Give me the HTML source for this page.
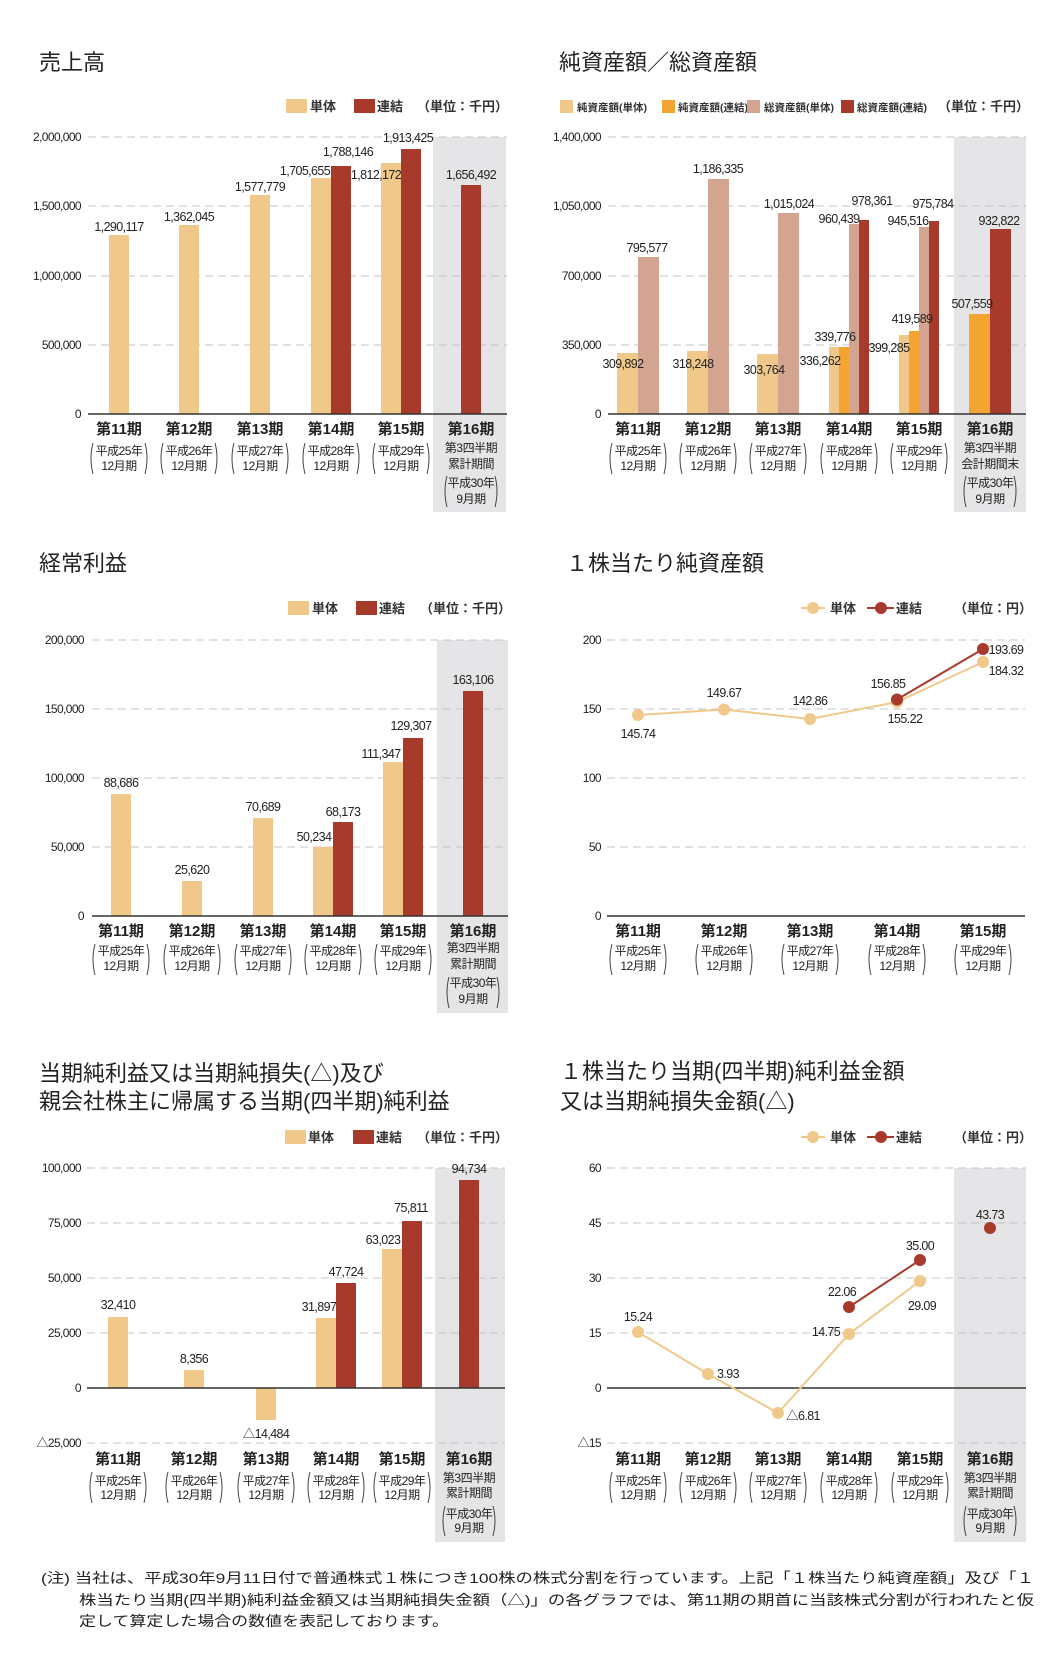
<!DOCTYPE html>
<html><head><meta charset="utf-8">
<style>
html,body{margin:0;padding:0;background:#fff;}
svg{display:block;}
.t{font:22px "Liberation Sans","Noto Sans CJK JP",sans-serif;fill:#222;}
.n{font:12.5px "Liberation Sans Narrow","Liberation Sans","Noto Sans CJK JP",sans-serif;fill:#222;letter-spacing:-0.6px;}
.y{font:12px "Liberation Sans Narrow","Liberation Sans","Noto Sans CJK JP",sans-serif;fill:#222;text-anchor:end;letter-spacing:-0.6px;}
.c{font:bold 15px "Liberation Sans","Noto Sans CJK JP",sans-serif;fill:#222;text-anchor:middle;}
.s{font:12px "Liberation Sans Narrow","Liberation Sans","Noto Sans CJK JP",sans-serif;fill:#222;text-anchor:middle;letter-spacing:-0.5px;}
.l{font:bold 13px "Liberation Sans","Noto Sans CJK JP",sans-serif;fill:#333;}
.ls{font:bold 10.5px "Liberation Sans Narrow","Liberation Sans","Noto Sans CJK JP",sans-serif;fill:#333;}
.f{font:14px "Liberation Sans","Noto Sans CJK JP",sans-serif;fill:#222;}
.m{text-anchor:middle;}
.g{stroke:#c4c4c4;stroke-width:1;stroke-dasharray:8 5;}
.b{stroke:#333;stroke-width:1.5;}
.br{fill:none;stroke:#444;stroke-width:1;}
</style></head>
<body>
<svg width="1060" height="1663" viewBox="0 0 1060 1663" xmlns="http://www.w3.org/2000/svg">
<!-- ============ Chart 1 売上高 ============ -->
<text class="t" x="39" y="70">売上高</text>
<rect x="286" y="99" width="21" height="14" fill="#f0c98a"/><text class="l" x="310" y="111">単体</text>
<rect x="354" y="99" width="21" height="14" fill="#a83a2c"/><text class="l" x="377" y="111">連結</text>
<text class="l" x="417" y="111">（単位：千円）</text>
<rect x="433" y="137" width="73" height="375" fill="#e5e5e7"/>
<line class="g" x1="88" y1="137" x2="507" y2="137"/><line class="g" x1="88" y1="206" x2="507" y2="206"/>
<line class="g" x1="88" y1="276" x2="507" y2="276"/><line class="g" x1="88" y1="345" x2="507" y2="345"/>
<text class="y" x="81" y="141">2,000,000</text><text class="y" x="81" y="210">1,500,000</text>
<text class="y" x="81" y="280">1,000,000</text><text class="y" x="81" y="349">500,000</text><text class="y" x="81" y="418">0</text>
<rect x="109" y="235" width="20" height="179" fill="#f0c98a"/>
<rect x="179" y="225" width="20" height="189" fill="#f0c98a"/>
<rect x="250" y="195" width="20" height="219" fill="#f0c98a"/>
<rect x="311" y="178" width="20" height="236" fill="#f0c98a"/><rect x="331" y="166" width="20" height="248" fill="#a83a2c"/>
<rect x="381" y="163" width="20" height="251" fill="#f0c98a"/><rect x="401" y="149" width="20" height="265" fill="#a83a2c"/>
<rect x="461" y="185" width="20" height="229" fill="#a83a2c"/>
<line class="b" x1="88" y1="414" x2="507" y2="414"/>
<text class="n m" x="119" y="231">1,290,117</text><text class="n m" x="189" y="221">1,362,045</text>
<text class="n m" x="260" y="191">1,577,779</text><text class="n m" x="305" y="175">1,705,655</text>
<text class="n m" x="348" y="156">1,788,146</text><text class="n m" x="376" y="179">1,812,172</text>
<text class="n m" x="408" y="142">1,913,425</text><text class="n m" x="471" y="179">1,656,492</text>
<g>
<text class="c" x="119" y="434">第11期</text><text class="s" x="119" y="455">平成25年</text><text class="s" x="119" y="470">12月期</text>
<text class="c" x="189" y="434">第12期</text><text class="s" x="189" y="455">平成26年</text><text class="s" x="189" y="470">12月期</text>
<text class="c" x="260" y="434">第13期</text><text class="s" x="260" y="455">平成27年</text><text class="s" x="260" y="470">12月期</text>
<text class="c" x="331" y="434">第14期</text><text class="s" x="331" y="455">平成28年</text><text class="s" x="331" y="470">12月期</text>
<text class="c" x="401" y="434">第15期</text><text class="s" x="401" y="455">平成29年</text><text class="s" x="401" y="470">12月期</text>
<text class="c" x="471" y="434">第16期</text><text class="s" x="471" y="452">第3四半期</text><text class="s" x="471" y="468">累計期間</text><text class="s" x="471" y="487">平成30年</text><text class="s" x="471" y="503">9月期</text>
<path class="br" d="M93 443Q89 458 93 474M145 443Q149 458 145 474M163 443Q159 458 163 474M215 443Q219 458 215 474M234 443Q230 458 234 474M286 443Q290 458 286 474M305 443Q301 458 305 474M357 443Q361 458 357 474M375 443Q371 458 375 474M427 443Q431 458 427 474M447 476Q443 491 447 507M495 476Q499 491 495 507"/>
</g>

<!-- ============ Chart 2 純資産額／総資産額 ============ -->
<text class="t" x="559" y="70">純資産額／総資産額</text>
<rect x="560" y="100" width="13" height="13" fill="#f0c98a"/><text class="ls" x="577" y="111">純資産額(単体)</text>
<rect x="662" y="100" width="13" height="13" fill="#f4a531"/><text class="ls" x="678" y="111">純資産額(連結)</text>
<rect x="747" y="100" width="13" height="13" fill="#d3a590"/><text class="ls" x="764" y="111">総資産額(単体)</text>
<rect x="841" y="100" width="13" height="13" fill="#a83a2c"/><text class="ls" x="857" y="111">総資産額(連結)</text>
<text class="l" x="938" y="111">（単位：千円）</text>
<rect x="954" y="137" width="72" height="375" fill="#e5e5e7"/>
<line class="g" x1="608" y1="137" x2="1026" y2="137"/><line class="g" x1="608" y1="206" x2="1026" y2="206"/>
<line class="g" x1="608" y1="276" x2="1026" y2="276"/><line class="g" x1="608" y1="345" x2="1026" y2="345"/>
<text class="y" x="601" y="141">1,400,000</text><text class="y" x="601" y="210">1,050,000</text>
<text class="y" x="601" y="280">700,000</text><text class="y" x="601" y="349">350,000</text><text class="y" x="601" y="418">0</text>
<rect x="617" y="353" width="21" height="61" fill="#f0c98a"/><rect x="638" y="257" width="21" height="157" fill="#d3a590"/>
<rect x="687" y="351" width="21" height="63" fill="#f0c98a"/><rect x="708" y="179" width="21" height="235" fill="#d3a590"/>
<rect x="757" y="354" width="21" height="60" fill="#f0c98a"/><rect x="778" y="213" width="21" height="201" fill="#d3a590"/>
<rect x="829" y="347" width="10" height="67" fill="#f0c98a"/><rect x="839" y="347" width="10" height="67" fill="#f4a531"/>
<rect x="849" y="224" width="10" height="190" fill="#d3a590"/><rect x="859" y="220" width="10" height="194" fill="#a83a2c"/>
<rect x="899" y="335" width="10" height="79" fill="#f0c98a"/><rect x="909" y="331" width="10" height="83" fill="#f4a531"/>
<rect x="919" y="227" width="10" height="187" fill="#d3a590"/><rect x="929" y="221" width="10" height="193" fill="#a83a2c"/>
<rect x="969" y="314" width="21" height="100" fill="#f4a531"/><rect x="990" y="229" width="21" height="185" fill="#a83a2c"/>
<line class="b" x1="608" y1="414" x2="1026" y2="414"/>
<text class="n m" x="623" y="368">309,892</text><text class="n m" x="647" y="252">795,577</text>
<text class="n m" x="693" y="368">318,248</text><text class="n m" x="718" y="173">1,186,335</text>
<text class="n m" x="764" y="374">303,764</text><text class="n m" x="789" y="208">1,015,024</text>
<text class="n m" x="820" y="365">336,262</text><text class="n m" x="835" y="341">339,776</text>
<text class="n m" x="839" y="223">960,439</text><text class="n m" x="872" y="205">978,361</text>
<text class="n m" x="889" y="352">399,285</text><text class="n m" x="912" y="323">419,589</text>
<text class="n m" x="908" y="225">945,516</text><text class="n m" x="933" y="208">975,784</text>
<text class="n m" x="972" y="308">507,559</text><text class="n m" x="999" y="225">932,822</text>
<g>
<text class="c" x="638" y="434">第11期</text><text class="s" x="638" y="455">平成25年</text><text class="s" x="638" y="470">12月期</text>
<text class="c" x="708" y="434">第12期</text><text class="s" x="708" y="455">平成26年</text><text class="s" x="708" y="470">12月期</text>
<text class="c" x="778" y="434">第13期</text><text class="s" x="778" y="455">平成27年</text><text class="s" x="778" y="470">12月期</text>
<text class="c" x="849" y="434">第14期</text><text class="s" x="849" y="455">平成28年</text><text class="s" x="849" y="470">12月期</text>
<text class="c" x="919" y="434">第15期</text><text class="s" x="919" y="455">平成29年</text><text class="s" x="919" y="470">12月期</text>
<text class="c" x="990" y="434">第16期</text><text class="s" x="990" y="452">第3四半期</text><text class="s" x="990" y="468">会計期間末</text><text class="s" x="990" y="487">平成30年</text><text class="s" x="990" y="503">9月期</text>
<path class="br" d="M612 443Q608 458 612 474M664 443Q668 458 664 474M682 443Q678 458 682 474M734 443Q738 458 734 474M752 443Q748 458 752 474M804 443Q808 458 804 474M823 443Q819 458 823 474M875 443Q879 458 875 474M893 443Q889 458 893 474M945 443Q949 458 945 474M966 476Q962 491 966 507M1014 476Q1018 491 1014 507"/>
</g>

<!-- ============ Chart 3 経常利益 ============ -->
<text class="t" x="39" y="571">経常利益</text>
<rect x="288" y="601" width="21" height="14" fill="#f0c98a"/><text class="l" x="312" y="613">単体</text>
<rect x="356" y="601" width="21" height="14" fill="#a83a2c"/><text class="l" x="379" y="613">連結</text>
<text class="l" x="420" y="613">（単位：千円）</text>
<rect x="437" y="640" width="71" height="373" fill="#e5e5e7"/>
<line class="g" x1="92" y1="640" x2="508" y2="640"/><line class="g" x1="92" y1="709" x2="508" y2="709"/>
<line class="g" x1="92" y1="778" x2="508" y2="778"/><line class="g" x1="92" y1="847" x2="508" y2="847"/>
<text class="y" x="84" y="644">200,000</text><text class="y" x="84" y="713">150,000</text>
<text class="y" x="84" y="782">100,000</text><text class="y" x="84" y="851">50,000</text><text class="y" x="84" y="920">0</text>
<rect x="111" y="794" width="20" height="122" fill="#f0c98a"/>
<rect x="182" y="881" width="20" height="35" fill="#f0c98a"/>
<rect x="253" y="818" width="20" height="98" fill="#f0c98a"/>
<rect x="313" y="847" width="20" height="69" fill="#f0c98a"/><rect x="333" y="822" width="20" height="94" fill="#a83a2c"/>
<rect x="383" y="762" width="20" height="154" fill="#f0c98a"/><rect x="403" y="738" width="20" height="178" fill="#a83a2c"/>
<rect x="463" y="691" width="20" height="225" fill="#a83a2c"/>
<line class="b" x1="92" y1="916" x2="508" y2="916"/>
<text class="n m" x="121" y="787">88,686</text><text class="n m" x="192" y="874">25,620</text>
<text class="n m" x="263" y="811">70,689</text><text class="n m" x="314" y="841">50,234</text>
<text class="n m" x="343" y="816">68,173</text><text class="n m" x="381" y="758">111,347</text>
<text class="n m" x="411" y="730">129,307</text><text class="n m" x="473" y="684">163,106</text>
<g>
<text class="c" x="121" y="936">第11期</text><text class="s" x="121" y="955">平成25年</text><text class="s" x="121" y="970">12月期</text>
<text class="c" x="192" y="936">第12期</text><text class="s" x="192" y="955">平成26年</text><text class="s" x="192" y="970">12月期</text>
<text class="c" x="263" y="936">第13期</text><text class="s" x="263" y="955">平成27年</text><text class="s" x="263" y="970">12月期</text>
<text class="c" x="333" y="936">第14期</text><text class="s" x="333" y="955">平成28年</text><text class="s" x="333" y="970">12月期</text>
<text class="c" x="403" y="936">第15期</text><text class="s" x="403" y="955">平成29年</text><text class="s" x="403" y="970">12月期</text>
<text class="c" x="473" y="936">第16期</text><text class="s" x="473" y="952">第3四半期</text><text class="s" x="473" y="968">累計期間</text><text class="s" x="473" y="987">平成30年</text><text class="s" x="473" y="1003">9月期</text>
<path class="br" d="M95 944Q91 959 95 975M147 944Q151 959 147 975M166 944Q162 959 166 975M218 944Q222 959 218 975M237 944Q233 959 237 975M289 944Q293 959 289 975M307 944Q303 959 307 975M359 944Q363 959 359 975M377 944Q373 959 377 975M429 944Q433 959 429 975M449 977Q445 992 449 1008M497 977Q501 992 497 1008"/>
</g>

<!-- ============ Chart 4 １株当たり純資産額 ============ -->
<text class="t" x="566" y="571">１株当たり純資産額</text>
<line x1="801" y1="608" x2="825" y2="608" stroke="#f0c98a" stroke-width="2"/><circle cx="813" cy="608" r="6" fill="#f0c98a"/>
<text class="l" x="830" y="613">単体</text>
<line x1="867" y1="608" x2="894" y2="608" stroke="#a83a2c" stroke-width="2"/><circle cx="881" cy="608" r="6" fill="#a83a2c"/>
<text class="l" x="896" y="613">連結</text>
<text class="l" x="954" y="613">（単位：円）</text>
<line class="g" x1="607" y1="640" x2="1025" y2="640"/><line class="g" x1="607" y1="709" x2="1025" y2="709"/>
<line class="g" x1="607" y1="778" x2="1025" y2="778"/><line class="g" x1="607" y1="847" x2="1025" y2="847"/>
<text class="y" x="601" y="644">200</text><text class="y" x="601" y="713">150</text>
<text class="y" x="601" y="782">100</text><text class="y" x="601" y="851">50</text><text class="y" x="601" y="920">0</text>
<line class="b" x1="607" y1="916" x2="1025" y2="916"/>
<polyline points="638,715 724,709.5 810,719 897,702 983,662" fill="none" stroke="#f0c98a" stroke-width="2"/>
<polyline points="897,699.5 983,649" fill="none" stroke="#a83a2c" stroke-width="2"/>
<circle cx="638" cy="715" r="6" fill="#f0c98a"/><circle cx="724" cy="709.5" r="6" fill="#f0c98a"/>
<circle cx="810" cy="719" r="6" fill="#f0c98a"/><circle cx="897" cy="702" r="6" fill="#f0c98a"/>
<circle cx="983" cy="662" r="6" fill="#f0c98a"/>
<circle cx="897" cy="699.5" r="6" fill="#a83a2c"/><circle cx="983" cy="649" r="6" fill="#a83a2c"/>
<text class="n m" x="638" y="738">145.74</text><text class="n m" x="724" y="697">149.67</text>
<text class="n m" x="810" y="705">142.86</text><text class="n m" x="888" y="688">156.85</text>
<text class="n m" x="905" y="723">155.22</text><text class="n m" x="1006" y="654">193.69</text>
<text class="n m" x="1006" y="675">184.32</text>
<g>
<text class="c" x="638" y="936">第11期</text><text class="s" x="638" y="955">平成25年</text><text class="s" x="638" y="970">12月期</text>
<text class="c" x="724" y="936">第12期</text><text class="s" x="724" y="955">平成26年</text><text class="s" x="724" y="970">12月期</text>
<text class="c" x="810" y="936">第13期</text><text class="s" x="810" y="955">平成27年</text><text class="s" x="810" y="970">12月期</text>
<text class="c" x="897" y="936">第14期</text><text class="s" x="897" y="955">平成28年</text><text class="s" x="897" y="970">12月期</text>
<text class="c" x="983" y="936">第15期</text><text class="s" x="983" y="955">平成29年</text><text class="s" x="983" y="970">12月期</text>
<path class="br" d="M612 944Q608 959 612 975M664 944Q668 959 664 975M698 944Q694 959 698 975M750 944Q754 959 750 975M784 944Q780 959 784 975M836 944Q840 959 836 975M871 944Q867 959 871 975M923 944Q927 959 923 975M957 944Q953 959 957 975M1009 944Q1013 959 1009 975"/>
</g>

<!-- ============ Chart 5 当期純利益 ============ -->
<text class="t" x="39" y="1081">当期純利益又は当期純損失(△)及び</text>
<text class="t" x="39" y="1109">親会社株主に帰属する当期(四半期)純利益</text>
<rect x="285" y="1130" width="21" height="14" fill="#f0c98a"/><text class="l" x="308" y="1142">単体</text>
<rect x="353" y="1130" width="21" height="14" fill="#a83a2c"/><text class="l" x="376" y="1142">連結</text>
<text class="l" x="417" y="1142">（単位：千円）</text>
<rect x="435" y="1168" width="70" height="374" fill="#e5e5e7"/>
<line class="g" x1="87" y1="1168" x2="505" y2="1168"/><line class="g" x1="87" y1="1223" x2="505" y2="1223"/>
<line class="g" x1="87" y1="1278" x2="505" y2="1278"/><line class="g" x1="87" y1="1333" x2="505" y2="1333"/>
<line class="g" x1="87" y1="1443" x2="505" y2="1443"/>
<text class="y" x="81" y="1172">100,000</text><text class="y" x="81" y="1227">75,000</text>
<text class="y" x="81" y="1282">50,000</text><text class="y" x="81" y="1337">25,000</text>
<text class="y" x="81" y="1392">0</text><text class="y" x="81" y="1447">△25,000</text>
<rect x="108" y="1317" width="20" height="71" fill="#f0c98a"/>
<rect x="184" y="1370" width="20" height="18" fill="#f0c98a"/>
<rect x="256" y="1388" width="20" height="32" fill="#f0c98a"/>
<rect x="316" y="1318" width="20" height="70" fill="#f0c98a"/><rect x="336" y="1283" width="20" height="105" fill="#a83a2c"/>
<rect x="382" y="1249" width="20" height="139" fill="#f0c98a"/><rect x="402" y="1221" width="20" height="167" fill="#a83a2c"/>
<rect x="459" y="1180" width="20" height="208" fill="#a83a2c"/>
<line class="b" x1="87" y1="1388" x2="505" y2="1388"/>
<text class="n m" x="118" y="1309">32,410</text><text class="n m" x="194" y="1363">8,356</text>
<text class="n m" x="266" y="1438">△14,484</text><text class="n m" x="319" y="1311">31,897</text>
<text class="n m" x="346" y="1276">47,724</text><text class="n m" x="383" y="1244">63,023</text>
<text class="n m" x="411" y="1212">75,811</text><text class="n m" x="469" y="1173">94,734</text>
<g>
<text class="c" x="118" y="1464">第11期</text><text class="s" x="118" y="1485">平成25年</text><text class="s" x="118" y="1499">12月期</text>
<text class="c" x="194" y="1464">第12期</text><text class="s" x="194" y="1485">平成26年</text><text class="s" x="194" y="1499">12月期</text>
<text class="c" x="266" y="1464">第13期</text><text class="s" x="266" y="1485">平成27年</text><text class="s" x="266" y="1499">12月期</text>
<text class="c" x="336" y="1464">第14期</text><text class="s" x="336" y="1485">平成28年</text><text class="s" x="336" y="1499">12月期</text>
<text class="c" x="402" y="1464">第15期</text><text class="s" x="402" y="1485">平成29年</text><text class="s" x="402" y="1499">12月期</text>
<text class="c" x="469" y="1464">第16期</text><text class="s" x="469" y="1482">第3四半期</text><text class="s" x="469" y="1497">累計期間</text><text class="s" x="469" y="1518">平成30年</text><text class="s" x="469" y="1532">9月期</text>
<path class="br" d="M92 1472Q88 1487 92 1503M144 1472Q148 1487 144 1503M168 1472Q164 1487 168 1503M220 1472Q224 1487 220 1503M240 1472Q236 1487 240 1503M292 1472Q296 1487 292 1503M310 1472Q306 1487 310 1503M362 1472Q366 1487 362 1503M376 1472Q372 1487 376 1503M428 1472Q432 1487 428 1503M445 1506Q441 1521 445 1536M493 1506Q497 1521 493 1536"/>
</g>

<!-- ============ Chart 6 １株当たり当期純利益 ============ -->
<text class="t" x="560" y="1079">１株当たり当期(四半期)純利益金額</text>
<text class="t" x="560" y="1109">又は当期純損失金額(△)</text>
<line x1="801" y1="1137" x2="825" y2="1137" stroke="#f0c98a" stroke-width="2"/><circle cx="813" cy="1137" r="6" fill="#f0c98a"/>
<text class="l" x="830" y="1142">単体</text>
<line x1="867" y1="1137" x2="894" y2="1137" stroke="#a83a2c" stroke-width="2"/><circle cx="881" cy="1137" r="6" fill="#a83a2c"/>
<text class="l" x="896" y="1142">連結</text>
<text class="l" x="954" y="1142">（単位：円）</text>
<rect x="954" y="1168" width="72" height="374" fill="#e5e5e7"/>
<line class="g" x1="607" y1="1168" x2="1026" y2="1168"/><line class="g" x1="607" y1="1223" x2="1026" y2="1223"/>
<line class="g" x1="607" y1="1278" x2="1026" y2="1278"/><line class="g" x1="607" y1="1333" x2="1026" y2="1333"/>
<line class="g" x1="607" y1="1443" x2="1026" y2="1443"/>
<text class="y" x="601" y="1172">60</text><text class="y" x="601" y="1227">45</text>
<text class="y" x="601" y="1282">30</text><text class="y" x="601" y="1337">15</text>
<text class="y" x="601" y="1392">0</text><text class="y" x="601" y="1447">△15</text>
<line class="b" x1="607" y1="1388" x2="1026" y2="1388"/>
<polyline points="638,1332 708,1374 778,1413 849,1334 920,1281" fill="none" stroke="#f0c98a" stroke-width="2"/>
<polyline points="849,1307 920,1260" fill="none" stroke="#a83a2c" stroke-width="2"/>
<circle cx="638" cy="1332" r="6" fill="#f0c98a"/><circle cx="708" cy="1374" r="6" fill="#f0c98a"/>
<circle cx="778" cy="1413" r="6" fill="#f0c98a"/><circle cx="849" cy="1334" r="6" fill="#f0c98a"/>
<circle cx="920" cy="1281" r="6" fill="#f0c98a"/>
<circle cx="849" cy="1307" r="6" fill="#a83a2c"/><circle cx="920" cy="1260" r="6" fill="#a83a2c"/>
<circle cx="990" cy="1228" r="6" fill="#a83a2c"/>
<text class="n m" x="638" y="1321">15.24</text><text class="n m" x="728" y="1378">3.93</text>
<text class="n m" x="803" y="1420">△6.81</text><text class="n m" x="826" y="1336">14.75</text>
<text class="n m" x="842" y="1296">22.06</text><text class="n m" x="920" y="1250">35.00</text>
<text class="n m" x="922" y="1310">29.09</text><text class="n m" x="990" y="1219">43.73</text>
<g>
<text class="c" x="638" y="1464">第11期</text><text class="s" x="638" y="1485">平成25年</text><text class="s" x="638" y="1499">12月期</text>
<text class="c" x="708" y="1464">第12期</text><text class="s" x="708" y="1485">平成26年</text><text class="s" x="708" y="1499">12月期</text>
<text class="c" x="778" y="1464">第13期</text><text class="s" x="778" y="1485">平成27年</text><text class="s" x="778" y="1499">12月期</text>
<text class="c" x="849" y="1464">第14期</text><text class="s" x="849" y="1485">平成28年</text><text class="s" x="849" y="1499">12月期</text>
<text class="c" x="920" y="1464">第15期</text><text class="s" x="920" y="1485">平成29年</text><text class="s" x="920" y="1499">12月期</text>
<text class="c" x="990" y="1464">第16期</text><text class="s" x="990" y="1482">第3四半期</text><text class="s" x="990" y="1497">累計期間</text><text class="s" x="990" y="1518">平成30年</text><text class="s" x="990" y="1532">9月期</text>
<path class="br" d="M612 1472Q608 1487 612 1503M664 1472Q668 1487 664 1503M682 1472Q678 1487 682 1503M734 1472Q738 1487 734 1503M752 1472Q748 1487 752 1503M804 1472Q808 1487 804 1503M823 1472Q819 1487 823 1503M875 1472Q879 1487 875 1503M894 1472Q890 1487 894 1503M946 1472Q950 1487 946 1503M966 1506Q962 1521 966 1536M1014 1506Q1018 1521 1014 1536"/>
</g>

<!-- ============ Footnote ============ -->
<text class="f" x="41" y="1583" textLength="993" lengthAdjust="spacingAndGlyphs">(注) 当社は、平成30年9月11日付で普通株式１株につき100株の株式分割を行っています。上記「１株当たり純資産額」及び「１</text>
<text class="f" x="79" y="1605" textLength="955" lengthAdjust="spacingAndGlyphs">株当たり当期(四半期)純利益金額又は当期純損失金額（△)」の各グラフでは、第11期の期首に当該株式分割が行われたと仮</text>
<text class="f" x="79" y="1626" textLength="370" lengthAdjust="spacingAndGlyphs">定して算定した場合の数値を表記しております。</text>
</svg>
</body></html>
